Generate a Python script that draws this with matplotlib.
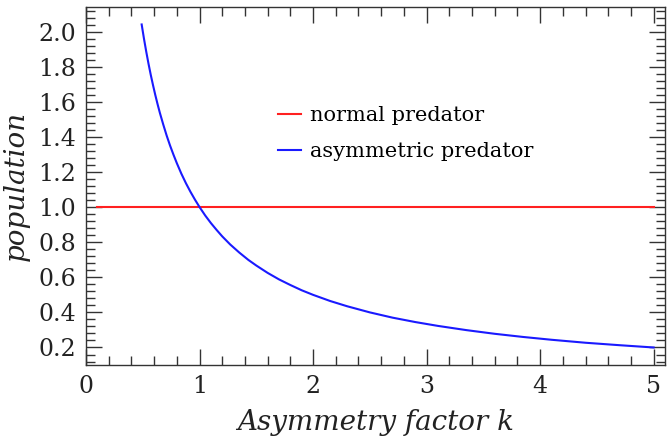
import matplotlib
matplotlib.use("Agg")
import matplotlib.pyplot as plt
from matplotlib.ticker import MultipleLocator

# values
k_asym = [0.49, 0.51, 0.53, 0.55, 0.57, 0.59, 0.61, 0.63, 0.65, 0.68, 0.71, 0.74,
          0.77, 0.80, 0.84, 0.88, 0.92, 0.96, 1.00, 1.05, 1.10, 1.15, 1.20, 1.27,
          1.35, 1.43, 1.50, 1.60, 1.70, 1.80, 1.90, 2.00, 2.15, 2.30, 2.50, 2.70,
          2.90, 3.10, 3.35, 3.60, 3.85, 4.10, 4.40, 4.70, 5.00]
pop_asym = [2.041, 1.961, 1.887, 1.818, 1.754, 1.695, 1.639, 1.587, 1.538, 1.471,
            1.408, 1.351, 1.299, 1.250, 1.190, 1.136, 1.087, 1.042, 1.000, 0.952,
            0.909, 0.870, 0.833, 0.787, 0.741, 0.699, 0.667, 0.625, 0.588, 0.556,
            0.526, 0.500, 0.465, 0.435, 0.400, 0.370, 0.345, 0.323, 0.299, 0.278,
            0.260, 0.244, 0.227, 0.213, 0.200]
k_norm = [0.1, 5.0]
pop_norm = [1.0, 1.0]

plt.rcParams["font.family"] = "DejaVu Serif"

fig = plt.figure(figsize=(6.67, 4.43), dpi=100)
ax = fig.add_axes([0.129, 0.176, 0.868, 0.808])

ax.plot(k_norm, pop_norm, color="#ff2020", lw=1.5, label="normal predator")
ax.plot(k_asym, pop_asym, color="#1a1aff", lw=1.5, label="asymmetric predator")

ax.set_xlim(0, 5.1)
ax.set_ylim(0.1, 2.14)
ax.xaxis.set_major_locator(MultipleLocator(1))
ax.xaxis.set_minor_locator(MultipleLocator(0.2))
ax.yaxis.set_major_locator(MultipleLocator(0.2))
ax.yaxis.set_minor_locator(MultipleLocator(0.04))
ax.yaxis.set_major_formatter(plt.FuncFormatter(lambda v, p: f"{v:.1f}"))

edge = "#333333"
for s in ax.spines.values():
    s.set_color(edge)
    s.set_linewidth(1.0)
ax.tick_params(which="both", direction="in", top=True, right=True, color=edge,
               width=1.0, labelsize=17, labelcolor="#222222")
ax.tick_params(which="major", length=11.5, pad=7)
ax.tick_params(which="minor", length=6.5)

ax.set_xlabel("Asymmetry factor k", fontsize=20, style="italic", labelpad=8)
ax.set_ylabel("population", fontsize=20, style="italic", labelpad=6)
ax.xaxis.label.set_color("#222222")
ax.yaxis.label.set_color("#222222")

ax.legend(loc="upper left", bbox_to_anchor=(0.3, 0.775), frameon=False, fontsize=15,
          handlelength=1.1, handletextpad=0.4, labelspacing=0.8)

fig.savefig("out.png", dpi=100)
